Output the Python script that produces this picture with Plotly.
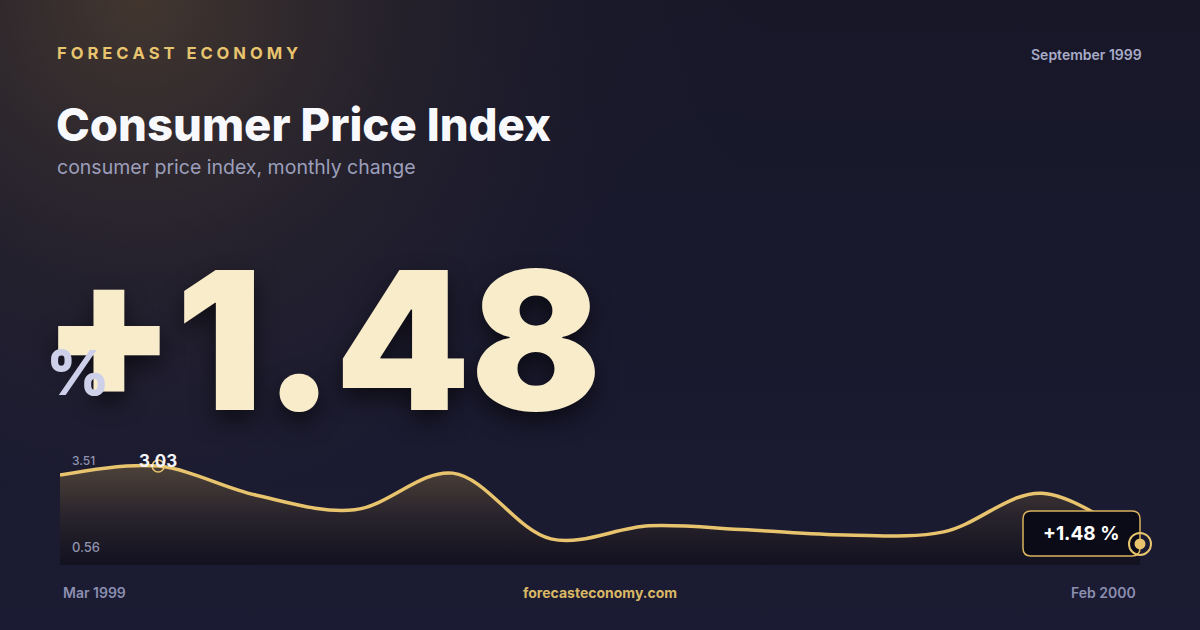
import base64

import plotly.graph_objects as go

W, H = 1200, 630

months = [
    "Mar 1999", "Apr 1999", "May 1999", "Jun 1999", "Jul 1999", "Aug 1999",
    "Sep 1999", "Oct 1999", "Nov 1999", "Dec 1999", "Jan 2000", "Feb 2000",
]
cpi_change = [2.85, 3.03, 2.45, 2.16, 2.89, 1.58, 1.84, 1.76, 1.66, 1.72, 2.49, 1.48]

headline = "+1.48"
range_labels = ["3.51", "0.56"]
highlight_idx = 1

GOLD = "#e8c46e"
BG = "#18182c"
FONT = "Inter"

# sparkline area in pixels; a bit of extra room right so the end marker is not clipped
CHART_L, CHART_R, PAD_R = 60, 1140, 14
CHART_T, CHART_B = 440, 565


def px(x):
    return x / W


def py(y):
    return 1 - y / H


# background: navy with a warm glow in the top-left corner
svg = f"""<svg xmlns="http://www.w3.org/2000/svg" width="{W}" height="{H}">
<defs>
<linearGradient id="b" x1="0" y1="0" x2="0" y2="1">
<stop offset="0" stop-color="#171728"/><stop offset="1" stop-color="#1b1b33"/>
</linearGradient>
<radialGradient id="g" gradientUnits="userSpaceOnUse" cx="140" cy="0" r="620">
<stop offset="0" stop-color="#4a3c30" stop-opacity="0.85"/>
<stop offset="0.45" stop-color="#3a3030" stop-opacity="0.35"/>
<stop offset="1" stop-color="#1b1b33" stop-opacity="0"/>
</radialGradient>
</defs>
<rect width="{W}" height="{H}" fill="url(#b)"/>
<rect width="{W}" height="{H}" fill="url(#g)"/>
</svg>"""
bg_src = "data:image/svg+xml;base64," + base64.b64encode(svg.encode()).decode()

fig = go.Figure()

fig.add_trace(
    go.Scatter(
        x=months,
        y=cpi_change,
        mode="lines",
        line=dict(color=GOLD, width=3.5, shape="spline", smoothing=1.0),
        fill="tozeroy",
        fillgradient=dict(
            type="vertical",
            colorscale=[[0, "#121120"], [0.5, "#29242c"], [1, "#4d4139"]],
            start=1.06,
            stop=3.03,
        ),
        hoverinfo="skip",
        showlegend=False,
    )
)

# highlighted point
fig.add_trace(
    go.Scatter(
        x=[months[highlight_idx]],
        y=[cpi_change[highlight_idx]],
        mode="markers",
        marker=dict(symbol="circle-open", size=12, color=GOLD, line=dict(width=1.5)),
        cliponaxis=False,
        hoverinfo="skip",
        showlegend=False,
    )
)


def pixel_shape(kind, x0, y0, x1, y1, **kw):
    # shape sized in pixels, anchored at the latest data point
    return dict(
        type=kind, xref="x", yref="y",
        xsizemode="pixel", ysizemode="pixel",
        xanchor=months[-1], yanchor=cpi_change[-1],
        x0=x0, x1=x1, y0=y0, y1=y1, layer="above", **kw,
    )


# rounded label box left of the latest point, then ring + dot on top
bx0, bx1, by0, by1, r = -117, 0, -12, 33, 8
box_path = (
    f"M{bx0 + r},{by0} L{bx1 - r},{by0} Q{bx1},{by0} {bx1},{by0 + r} "
    f"L{bx1},{by1 - r} Q{bx1},{by1} {bx1 - r},{by1} "
    f"L{bx0 + r},{by1} Q{bx0},{by1} {bx0},{by1 - r} "
    f"L{bx0},{by0 + r} Q{bx0},{by0} {bx0 + r},{by0} Z"
)
shapes = [
    dict(
        type="path", path=box_path, xref="x", yref="y",
        xsizemode="pixel", ysizemode="pixel",
        xanchor=months[-1], yanchor=cpi_change[-1], layer="above",
        fillcolor="#0b0b18", line=dict(color="#d9b35e", width=1.5),
    ),
    pixel_shape("circle", -11, -11, 11, 11, fillcolor="rgba(0,0,0,0)",
                line=dict(color=GOLD, width=2)),
    pixel_shape("circle", -5.5, -5.5, 5.5, 5.5, fillcolor=GOLD,
                line=dict(color=GOLD, width=0)),
]

annotations = [
    dict(
        x=months[-1], y=cpi_change[-1], xref="x", yref="y",
        text=f"<b>{headline} %</b>", showarrow=False,
        xanchor="center", yanchor="middle", xshift=-59, yshift=10,
        font=dict(family=FONT, size=19, color="#ffffff"),
    ),
    dict(
        x=months[highlight_idx], y=cpi_change[highlight_idx], xref="x", yref="y",
        text=f"<b>{cpi_change[highlight_idx]:.2f}</b>", showarrow=False,
        yshift=5, font=dict(family=FONT, size=17, color="#f4f4fa"),
    ),
]


def text(x, y, s, size, color, anchor="left", weight=400, family=FONT, **kw):
    annotations.append(
        dict(
            x=px(x), y=py(y), xref="paper", yref="paper", text=s, showarrow=False,
            xanchor=anchor, yanchor="middle",
            font=dict(family=family, size=size, color=color, weight=weight, **kw),
        )
    )


text(55, 53, " ".join("FORECAST") + "   " + " ".join("ECONOMY"), 16.6, GOLD, weight=700)
text(1144, 54, "September 1999", 14, "#a9acc8", anchor="right", weight=600)
text(54, 125, "Consumer Price Index", 45.5, "#f8f9fd", weight=800)
text(55, 167, "consumer price index, monthly change", 19.5, "#9c9fbb")

# headline number
text(40, 339.5, headline, 193, "#f8eccb", weight=900,
     shadow="0px 10px 22px rgba(0,0,0,0.55)")
text(78, 372, "%", 62, "#cdd0e8", anchor="center", weight=800)

# range labels of the sparkline
text(70, 461, range_labels[0], 12, "#8f93b0", weight=500)
text(70, 547, range_labels[1], 13, "#8f93b0", weight=500)

# footer
text(61, 592, months[0], 14, "#8b8fb0", weight=600)
text(1138, 592, months[-1], 14, "#8b8fb0", anchor="right", weight=600)
text(600, 592, "forecasteconomy.com", 14, "#d9b865", anchor="center", weight=700)

step = (CHART_R - CHART_L) / (len(months) - 1)

fig.update_layout(
    width=W,
    height=H,
    margin=dict(l=0, r=0, t=0, b=0),
    paper_bgcolor=BG,
    plot_bgcolor="rgba(0,0,0,0)",
    showlegend=False,
    hovermode=False,
    xaxis=dict(
        domain=[px(CHART_L), px(CHART_R + PAD_R)],
        type="category",
        range=[0, len(months) - 1 + PAD_R / step],
        visible=False,
        fixedrange=True,
    ),
    yaxis=dict(
        domain=[py(CHART_B), py(CHART_T)],
        range=[1.06, 3.55],
        visible=False,
        fixedrange=True,
    ),
    images=[
        dict(
            source=bg_src, xref="paper", yref="paper", x=0, y=1,
            sizex=1, sizey=1, xanchor="left", yanchor="top",
            sizing="stretch", layer="below",
        )
    ],
    shapes=shapes,
    annotations=annotations,
)

fig.write_html(
    "out.html",
    config=dict(displayModeBar=False),
    post_script="document.body.style.margin='0';document.body.style.overflow='hidden';",
)
